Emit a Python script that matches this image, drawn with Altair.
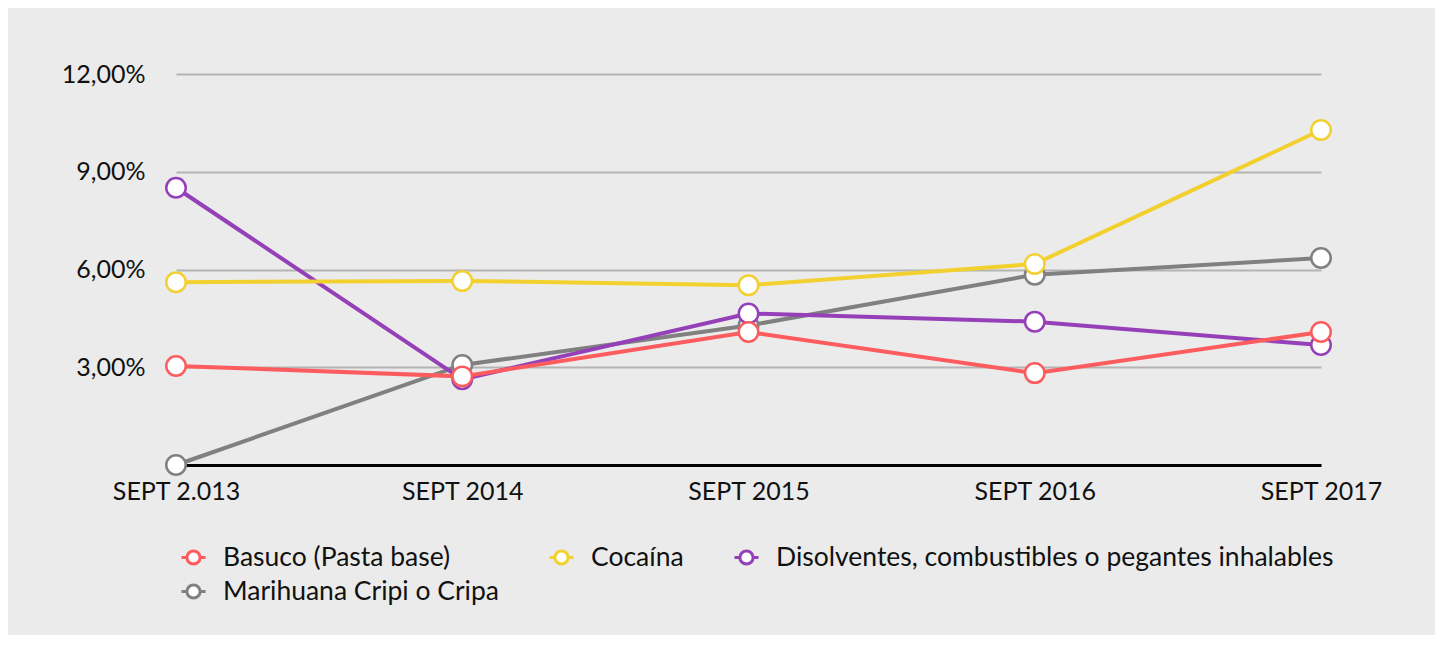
import altair as alt
import pandas as pd

periods = ["SEPT 2.013", "SEPT 2014", "SEPT 2015", "SEPT 2016", "SEPT 2017"]
series_names = [
    "Basuco (Pasta base)",
    "Cocaína",
    "Disolventes, combustibles o pegantes inhalables",
    "Marihuana Cripi o Cripa",
]
colors = ["#fd5c5e", "#f2d02f", "#9540b8", "#808080"]

basuco = [3.04, 2.72, 4.08, 2.82, 4.08]
cocaina = [5.61, 5.65, 5.52, 6.17, 10.28]
disolventes = [8.51, 2.63, 4.65, 4.40, 3.68]
marihuana = [0.0, 3.07, 4.28, 5.84, 6.35]

values = [basuco, cocaina, disolventes, marihuana]
rows = []
for name, vals in zip(series_names, values):
    for p, v in zip(periods, vals):
        rows.append({"periodo": p, "serie": name, "valor": v})
df = pd.DataFrame(rows)

FONT = "Lato"

legend_symbol = (
    "M -1 0 L -0.55 0 M 0.55 0 L 1 0 "
    "M -0.55 0 A 0.55 0.55 0 1 1 0.55 0 A 0.55 0.55 0 1 1 -0.55 0 Z"
)

base = alt.Chart(df).encode(
    x=alt.X(
        "periodo:N",
        sort=periods,
        scale=alt.Scale(type="point", padding=0),
        axis=alt.Axis(
            title=None,
            labelAngle=0,
            ticks=False,
            grid=False,
            domain=True,
            domainColor="#000000",
            domainWidth=3,
            labelFont=FONT,
            labelFontSize=25,
            labelColor="#111111",
            labelPadding=14,
        ),
    ),
    y=alt.Y(
        "valor:Q",
        scale=alt.Scale(domain=[0, 12], nice=False, zero=True),
        axis=alt.Axis(
            title=None,
            values=[3, 6, 9, 12],
            ticks=False,
            domain=False,
            grid=True,
            gridColor="#b4b4b4",
            gridWidth=2,
            labelExpr="replace(format(datum.value, '.2f'), '.', ',') + '%'",
            labelFont=FONT,
            labelFontSize=25,
            labelColor="#111111",
            labelPadding=31,
        ),
    ),
    color=alt.Color(
        "serie:N",
        sort=series_names,
        scale=alt.Scale(domain=series_names, range=colors),
        legend=alt.Legend(
            title=None,
            orient="none",
            legendX=4,
            legendY=470,
            columns=3,
            direction="horizontal",
            symbolType=legend_symbol,
            symbolSize=576,
            symbolStrokeWidth=3,
            symbolFillColor="white",
            labelFont=FONT,
            labelFontSize=26.5,
            labelColor="#111111",
            labelOffset=16,
            columnPadding=44,
            rowPadding=7,
            padding=0,
            labelLimit=900,
        ),
    ),
)

draw_order = [3, 2, 0, 1]
layers = []
for i in draw_order:
    name = series_names[i]
    sub = base.transform_filter(alt.datum.serie == name)
    layers.append(sub.mark_line(strokeWidth=4))
    layers.append(
        sub.mark_point(
            filled=False, fill="white", fillOpacity=1, size=380, strokeWidth=2.5, opacity=1
        )
    )

chart = (
    alt.layer(*layers)
    .properties(
        width=1145,
        height=391,
        padding={"left": 168, "top": 66, "right": 114, "bottom": 170},
        autosize=alt.AutoSizeParams(type="none"),
        background="#ebebeb",
    )
    .configure_view(stroke=None)
)

chart.save("out.html", embed_options={"renderer": "svg", "actions": False})
